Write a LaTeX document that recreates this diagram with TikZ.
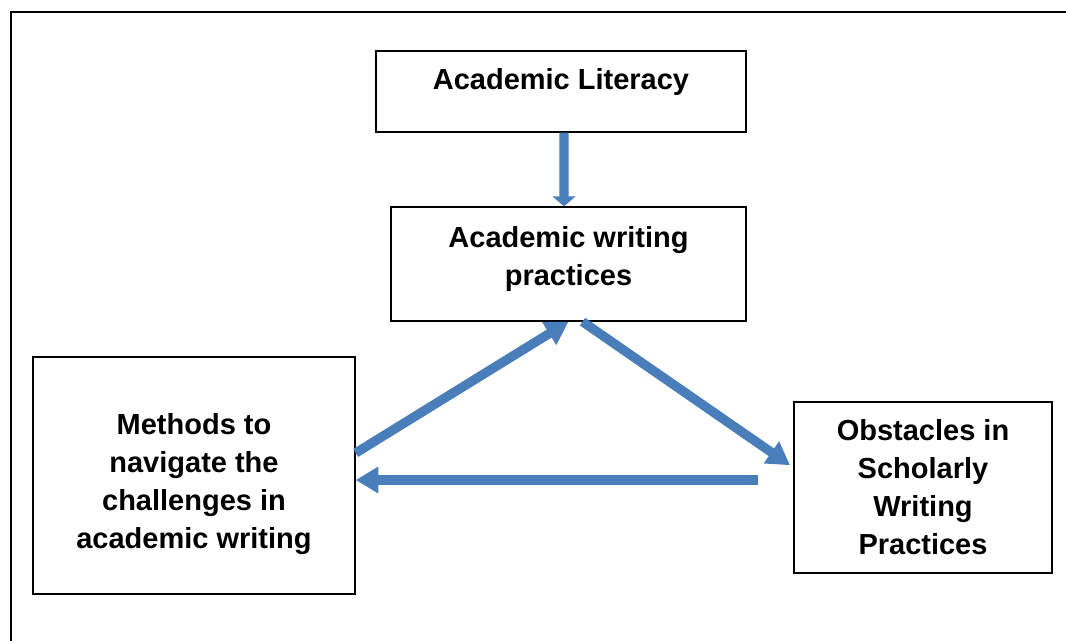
\documentclass[tikz,border=0pt]{standalone}
\usepackage{fontspec}
\setmainfont{Liberation Sans}
\usetikzlibrary{arrows.meta}
\definecolor{arrowblue}{HTML}{4A7EBB}
\tikzstyle{box} = [rectangle, draw=black, line width=1pt, inner sep=0pt, align=center, font=\fontsize{21.75}{28.5}\selectfont\bfseries]
\tikzstyle{arrow} = [draw=arrowblue, line width=7pt, -{Triangle[length=17pt,width=19pt]}]
\tikzstyle{shortarrow} = [arrow, -{Triangle[length=7.5pt,width=17pt]}]

\begin{document}
\begin{tikzpicture}[x=0.75pt, y=-0.75pt]
\useasboundingbox (0,0) rectangle (1066,641);
% outer frame, runs off the right and bottom edges
\draw[line width=1.5pt] (11,641) -- (11,12) -- (1066,12);
\node (lit) [box, minimum width=277.5pt, text height=29.25pt, text depth=31.5pt] at (561,91.5) {Academic Literacy};
\node (wri) [box, minimum width=266.25pt, minimum height=85.5pt] at (568.5,264) {Academic writing\\practices\rule[-12pt]{0pt}{1pt}};
\node (meth) [box, minimum width=241.5pt, minimum height=177.75pt] at (194,475.5) {\rule{0pt}{29.25pt}Methods to\\navigate the\\challenges in\\academic writing};
\node (obs) [box, minimum width=193.5pt, minimum height=128.25pt] at (923,487.5) {Obstacles in\\Scholarly\\Writing\\Practices};
\draw [shortarrow] ([xshift=2.25pt]lit.south) -- ([xshift=-3.4pt]wri.north);
\draw [arrow] ([yshift=16.9pt]meth.east) -- (wri.south);
\draw [arrow, shorten >=3pt] ([xshift=10.5pt]wri.south) -- ([yshift=15pt]obs.west);
\draw [arrow] ([xshift=-26.25pt,yshift=5.6pt]obs.west) -- ([yshift=5.6pt]obs.west -| meth.east);
\end{tikzpicture}
\end{document}
